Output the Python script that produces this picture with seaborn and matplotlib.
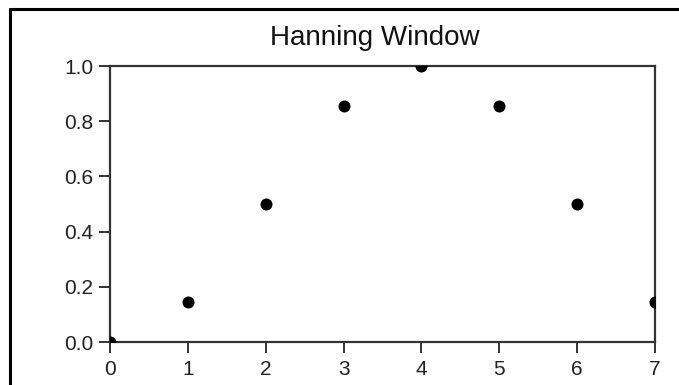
import matplotlib
matplotlib.use("Agg")
import matplotlib.pyplot as plt
import seaborn as sns
import pandas as pd
from matplotlib.lines import Line2D

sns.set_theme(style="white")
plt.rcParams['font.family'] = ['Liberation Sans', 'DejaVu Sans']

# Data
sample = [0, 1, 2, 3, 4, 5, 6, 7]
window = [0.0, 0.146, 0.5, 0.854, 1.0, 0.854, 0.5, 0.146]
x_ticks = [0, 1, 2, 3, 4, 5, 6, 7]
y_ticks = [0.0, 0.2, 0.4, 0.6, 0.8, 1.0]
y_ticklabels = ["0.0", "0.2", "0.4", "0.6", "0.8", "1.0"]
title = "Hanning Window"

df = pd.DataFrame({"n": sample, "w": window})

W, H = 679, 385
fig = plt.figure(figsize=(W / 100, H / 100), dpi=100)
fig.patch.set_facecolor("white")

left, right, top, bottom = 110, 655, 66, 342
ax = fig.add_axes([left / W, 1 - bottom / H, (right - left) / W, (bottom - top) / H])

sns.scatterplot(data=df, x="n", y="w", ax=ax, color="black", s=75,
                edgecolor="black", linewidth=0, legend=False, zorder=3)

ax.set_xlim(0, 7)
ax.set_ylim(0, 1)
ax.set_xticks(x_ticks)
ax.set_xticklabels([str(t) for t in x_ticks])
ax.set_yticks(y_ticks)
ax.set_yticklabels(y_ticklabels)
ax.set_xlabel("")
ax.set_ylabel("")
for sp in ax.spines.values():
    sp.set_color("#333333")
    sp.set_linewidth(1.6)
    sp.set_visible(True)
ax.tick_params(axis="both", which="major", bottom=True, left=True, top=False, right=False,
               direction="out", length=8, width=1.4, color="#333333",
               labelsize=15, labelcolor="#222222")
ax.tick_params(axis="y", pad=4)
ax.tick_params(axis="x", pad=5)
ax.grid(False)

fig.text(375 / W, 1 - 45 / H, title, ha="center", va="baseline",
         fontsize=20, color="#111111")

# Outer frame (left and top edges visible)
fig.add_artist(Line2D([10 / W, 10 / W], [0, 1 - 9 / H], transform=fig.transFigure,
                      color="black", linewidth=2.2))
fig.add_artist(Line2D([10 / W, 1], [1 - 9 / H, 1 - 9 / H], transform=fig.transFigure,
                      color="black", linewidth=2.2))

fig.savefig("out.png", dpi=100)
